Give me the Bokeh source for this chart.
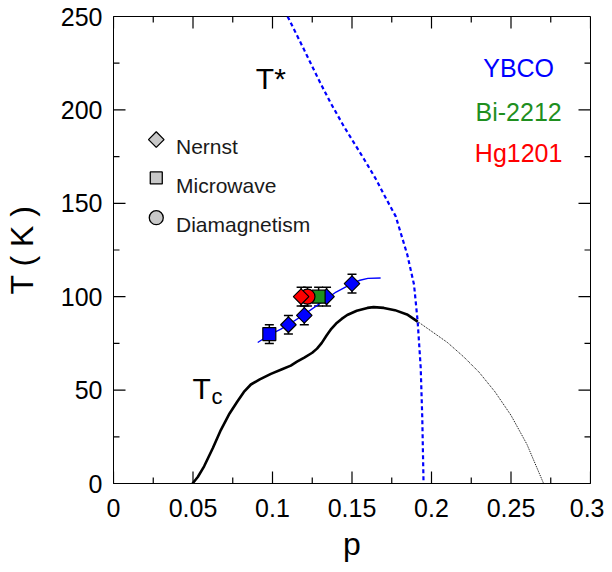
from bokeh.plotting import figure
from bokeh.models import Range1d, Whisker, TeeHead, ColumnDataSource, FixedTicker
from bokeh.core.properties import value
from bokeh.embed import file_html
from bokeh.resources import INLINE
import math

FONT = "Liberation Sans"

# ---- data ----
tc_p = [0.0497, 0.053, 0.057, 0.0625, 0.0675, 0.073, 0.078, 0.082, 0.0864, 0.092, 0.099, 0.106,
        0.1115, 0.1154, 0.12, 0.125, 0.128, 0.131, 0.134, 0.137, 0.140, 0.1435, 0.147, 0.153,
        0.1597, 0.1636, 0.17, 0.177, 0.1846, 0.1913]
tc_T = [0, 3.5, 9.2, 19, 28.6, 37.5, 44, 49, 53, 55.7, 58.7, 61.2,
        63.1, 65.2, 67.4, 70.0, 72.2, 75.3, 79.2, 82.8, 85.6, 88.1, 90.2, 92.5,
        94, 94.4, 94, 92.8, 90.5, 86.7]

dome_p = [0.1913, 0.20, 0.21, 0.22, 0.23, 0.24, 0.25, 0.26, 0.2705]
dome_T = [86.7, 81.5, 75.5, 68, 59.5, 49, 36.5, 21, 0]

tstar_p = [0.1095, 0.12, 0.13, 0.1366, 0.145, 0.1576, 0.165, 0.1705, 0.1775, 0.1848, 0.189,
           0.1913, 0.1932, 0.1942, 0.195]
tstar_T = [250, 232, 214.5, 203.7, 191, 173.6, 163, 154, 143, 122.4, 106.5,
           86.7, 62.2, 35, 0]

onset_p = [0.0907, 0.098, 0.105, 0.11, 0.12, 0.13, 0.14, 0.15, 0.155, 0.16, 0.168]
onset_T = [75.5, 79.5, 82.5, 85, 90.5, 96.5, 102.5, 107, 108.8, 109.8, 110]

ybco_nernst_p = [0.11, 0.12, 0.134, 0.15]
ybco_nernst_T = [85, 90, 100, 107]
ybco_micro_p = [0.098]
ybco_micro_T = [80]
bi_micro_p = [0.129]
bi_micro_T = [100]
hg_diamag_p = [0.122]
hg_diamag_T = [100]
hg_nernst_p = [0.118]
hg_nernst_T = [100]
err = 5

x_ticks = [0, 0.05, 0.1, 0.15, 0.2, 0.25, 0.3]
x_tick_labels = ["0", "0.05", "0.1", "0.15", "0.2", "0.25", "0.3"]
x_minor = [0.025, 0.075, 0.125, 0.175, 0.225, 0.275]
y_ticks = [0, 50, 100, 150, 200, 250]
y_minor = [25, 75, 125, 175, 225]

legend_labels = ["Nernst", "Microwave", "Diamagnetism"]
legend_marker_T = [184.1, 163.6, 142.3]
legend_text_T = [180.2, 159.7, 138.7]

compound_labels = ["YBCO", "Bi-2212", "Hg1201"]
compound_colors = ["#0000ff", "#1f8f1f", "#ff0000"]
compound_T = [222.6, 198.9, 176.7]

X0, X1, Y0, Y1 = 0, 0.3, 0, 250

# ---- figure ----
W, H = 604, 564
BL, BR, BT, BB = 113, 14, 16, 80
p = figure(width=W, height=H, output_backend="svg", toolbar_location=None,
           x_range=Range1d(X0, X1), y_range=Range1d(Y0, Y1),
           min_border_left=BL, min_border_right=BR, min_border_top=BT, min_border_bottom=BB)
p.background_fill_color = "white"
p.border_fill_color = "white"
p.outline_line_color = "black"
p.outline_line_width = 1
p.grid.visible = False

for ax in (p.xaxis[0], p.yaxis[0]):
    ax.axis_line_color = "black"
    ax.axis_line_width = 1
    ax.major_tick_in = 0
    ax.major_tick_out = 0
    ax.minor_tick_in = 0
    ax.minor_tick_out = 0
    ax.major_label_text_font = FONT
    ax.major_label_text_color = "black"
    ax.major_label_text_font_size = "25px"
    ax.axis_label_text_font = FONT
    ax.axis_label_text_font_style = "normal"
    ax.axis_label_text_color = "black"
    ax.axis_label_text_font_size = "32px"

p.xaxis.ticker = FixedTicker(ticks=x_ticks, minor_ticks=x_minor)
p.yaxis.ticker = FixedTicker(ticks=y_ticks, minor_ticks=y_minor)
p.xaxis.major_label_overrides = dict(zip(x_ticks, x_tick_labels))
p.xaxis.axis_label = "p"
p.yaxis.axis_label = "T ( K )"
p.xaxis.major_label_standoff = 15
p.yaxis.major_label_standoff = 11
p.xaxis.axis_label_standoff = 6
p.yaxis.axis_label_standoff = 18

# ---- inward ticks on all four sides (pixel lengths converted to data units) ----
fw, fh = W - BL - BR, H - BT - BB
dx_per_px = (X1 - X0) / fw
dy_per_px = (Y1 - Y0) / fh
MAJ, MIN = 12, 6

tx0, ty0, tx1, ty1 = [], [], [], []
for ticks, L in ((x_ticks, MAJ), (x_minor, MIN)):
    for t in ticks:
        tx0 += [t, t]; tx1 += [t, t]
        ty0 += [Y0, Y1]; ty1 += [Y0 + L * dy_per_px, Y1 - L * dy_per_px]
for ticks, L in ((y_ticks, MAJ), (y_minor, MIN)):
    for t in ticks:
        ty0 += [t, t]; ty1 += [t, t]
        tx0 += [X0, X1]; tx1 += [X0 + L * dx_per_px, X1 - L * dx_per_px]
tick_src = ColumnDataSource(dict(x0=tx0, y0=ty0, x1=tx1, y1=ty1))
p.segment(x0="x0", y0="y0", x1="x1", y1="y1", source=tick_src, line_color="#000000", line_width=1.2)

# ---- curves ----
p.line(tstar_p, tstar_T, line_color="#0000ff", line_width=2.2, line_dash="4 3")
p.line(dome_p, dome_T, line_color="black", line_width=1, line_dash="1 1")
p.line(tc_p, tc_T, line_color="black", line_width=2.6)
p.line(onset_p, onset_T, line_color="#0000ff", line_width=1.4)

# ---- error bars ----
all_p = ybco_micro_p + ybco_nernst_p + bi_micro_p + hg_diamag_p + hg_nernst_p
all_T = ybco_micro_T + ybco_nernst_T + bi_micro_T + hg_diamag_T + hg_nernst_T
esrc = ColumnDataSource(dict(x=all_p, lo=[t - err for t in all_T], hi=[t + err for t in all_T]))
p.add_layout(Whisker(base="x", lower="lo", upper="hi", source=esrc, line_color="black", line_width=1.5,
                     upper_head=TeeHead(size=9, line_width=1.5, line_color="black"),
                     lower_head=TeeHead(size=9, line_width=1.5, line_color="black")))

# ---- markers ----
DIA = 11
p.scatter(ybco_nernst_p, ybco_nernst_T, marker="square", angle=math.pi / 4, size=DIA,
          fill_color="#0000ff", line_color="black", line_width=1.2)
p.scatter(ybco_micro_p, ybco_micro_T, marker="square", size=13,
          fill_color="#0000ff", line_color="black", line_width=1.2)
p.scatter(bi_micro_p, bi_micro_T, marker="square", size=13,
          fill_color="#1f8f1f", line_color="black", line_width=1.2)
p.scatter(hg_diamag_p, hg_diamag_T, marker="circle", size=15,
          fill_color="#ff0000", line_color="black", line_width=1.2)
p.scatter(hg_nernst_p, hg_nernst_T, marker="square", angle=math.pi / 4, size=DIA,
          fill_color="#ff0000", line_color="black", line_width=1.2)

# ---- legend (drawn manually) ----
leg_x = 0.0269
p.scatter([leg_x], [legend_marker_T[0]], marker="square", angle=math.pi / 4, size=11,
          fill_color="#c8c8c8", line_color="black", line_width=1.3)
p.scatter([leg_x], [legend_marker_T[1]], marker="square", size=12,
          fill_color="#c8c8c8", line_color="black", line_width=1.3)
p.scatter([leg_x], [legend_marker_T[2]], marker="circle", size=14,
          fill_color="#c8c8c8", line_color="black", line_width=1.3)
p.text([0.0393] * 3, legend_text_T, text=legend_labels, text_font=value(FONT),
       text_font_size="21px", text_color="#1a1a1a", text_baseline="alphabetic", text_align="left")

# ---- compound labels ----
p.text([0.2548] * 3, compound_T, text=compound_labels, text_font=value(FONT),
       text_font_size="25px", text_color=compound_colors, text_baseline="alphabetic", text_align="center")

# ---- T* and Tc labels ----
p.text([0.0895], [216.7], text=["T*"], text_font=value(FONT), text_font_size="30px",
       text_color="black", text_baseline="alphabetic", text_align="left")
p.text([0.0497], [51.1], text=["T"], text_font=value(FONT), text_font_size="30px",
       text_color="black", text_baseline="alphabetic", text_align="left")
p.text([0.0617], [46.6], text=["c"], text_font=value(FONT), text_font_size="22px",
       text_color="black", text_baseline="alphabetic", text_align="left")

open("out.html", "w").write(file_html(p, INLINE))
